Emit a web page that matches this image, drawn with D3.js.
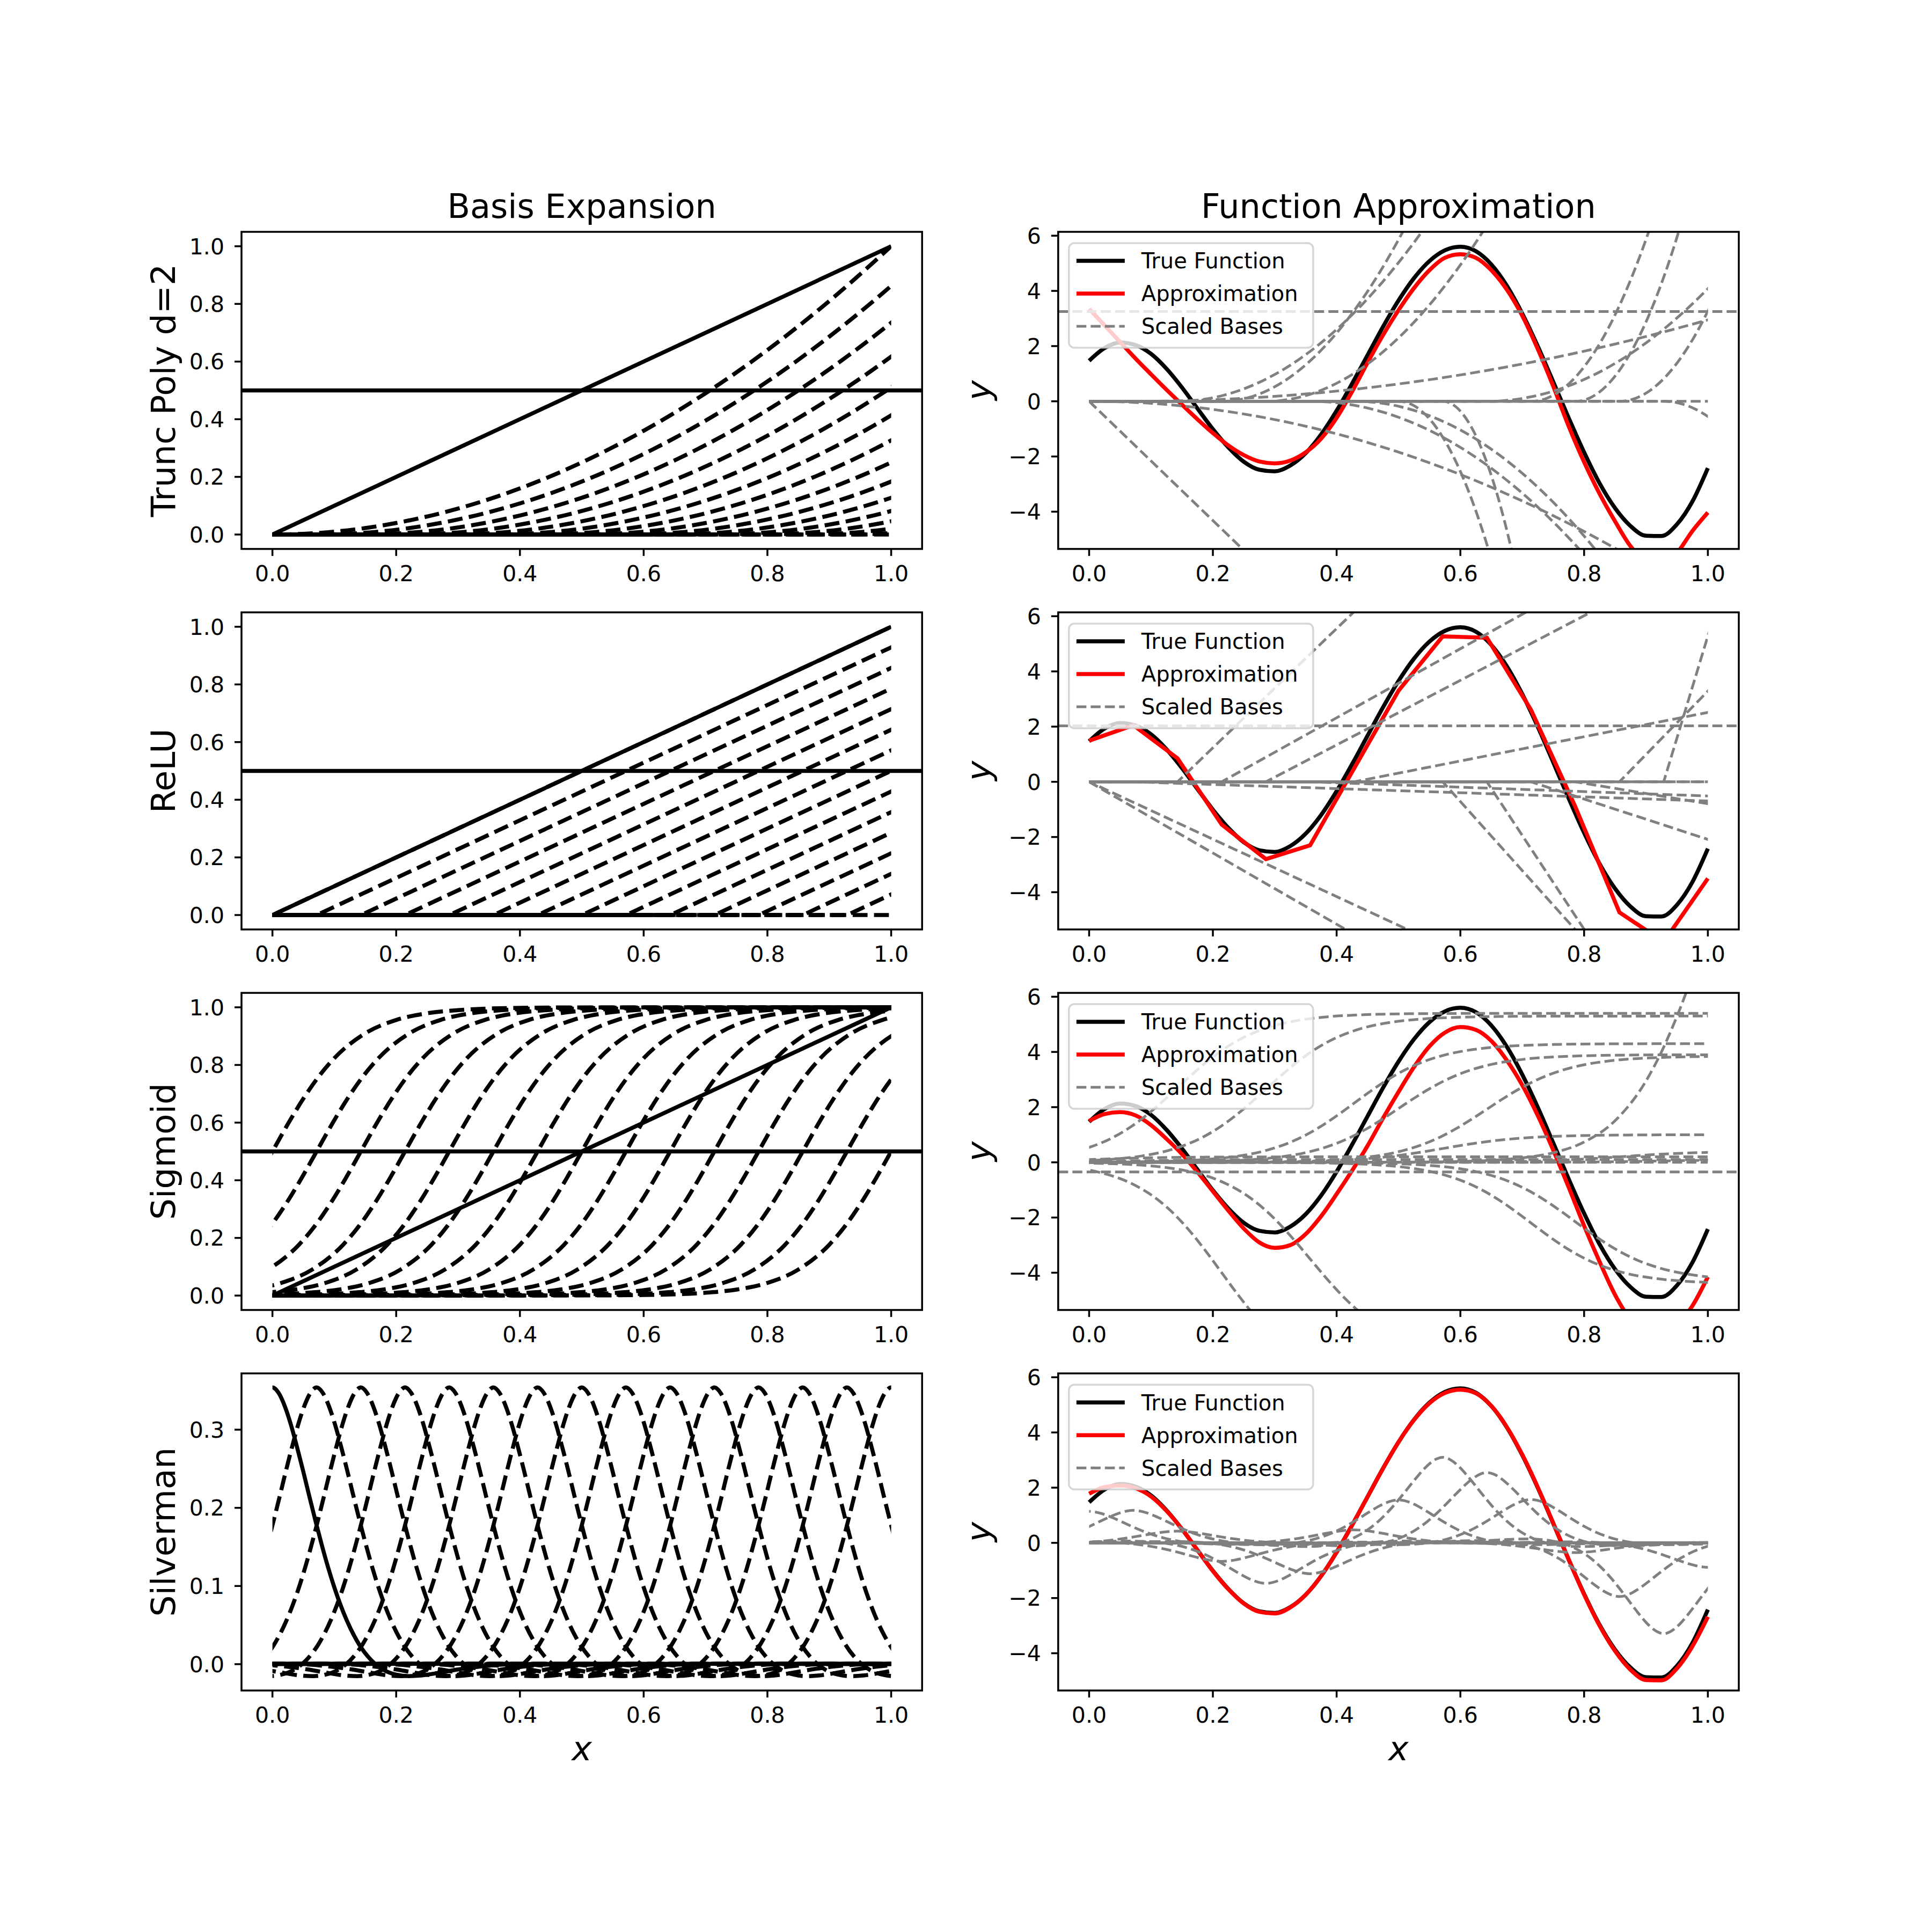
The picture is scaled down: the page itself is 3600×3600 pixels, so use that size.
<!DOCTYPE html>
<html lang="en">
<head>
<meta charset="UTF-8">
<title>Basis Expansion vs Function Approximation</title>
<style>
  body { margin: 0; background: #fff; }
  svg { display: block; font-family: "DejaVu Sans", sans-serif; }
</style>
<script src="https://d3js.org/d3.v7.min.js"></script>
</head>
<body>
<svg width="3600" height="3600"></svg>
<script>
// ---- data ----
const xTicks = [0, 0.2, 0.4, 0.6, 0.8, 1.0];
const unitTicks = [0, 0.2, 0.4, 0.6, 0.8, 1.0];
const kernelTicks = [0, 0.1, 0.2, 0.3];
const rightTicks = [-4, -2, 0, 2, 4, 6];
const rowNames = ["Trunc Poly d=2", "ReLU", "Sigmoid", "Silverman"];

// knot / centre positions of the 15 bases
const knots = [0, 0.0714, 0.1429, 0.2143, 0.2857, 0.3571, 0.4286, 0.5, 0.5714, 0.6429, 0.7143, 0.7857, 0.8571, 0.9286, 1.0];

// common x grid for the smooth curves
const gridX = [0, 0.025, 0.05, 0.075, 0.1, 0.125, 0.15, 0.175, 0.2, 0.225, 0.25, 0.275, 0.3, 0.325, 0.35, 0.375, 0.4,
  0.425, 0.45, 0.475, 0.5, 0.525, 0.55, 0.575, 0.6, 0.625, 0.65, 0.675, 0.7, 0.725, 0.75, 0.775, 0.8, 0.825, 0.85,
  0.875, 0.9, 0.925, 0.95, 0.975, 1.0];

const trueY = [1.47, 1.93, 2.13, 2.04, 1.72, 1.18, 0.50, -0.26, -1.01, -1.67, -2.19, -2.48, -2.54, -2.33, -1.88, -1.20,
  -0.34, 0.64, 1.67, 2.70, 3.65, 4.46, 5.08, 5.47, 5.60, 5.44, 4.96, 4.19, 3.18, 2.00, 0.71, -0.60, -1.85, -2.97,
  -3.87, -4.52, -4.87, -4.88, -4.46, -3.63, -2.42];

const approxTrunc = [3.35, 2.75, 2.15, 1.55, 0.98, 0.42, -0.12, -0.65, -1.15, -1.6, -1.95, -2.18, -2.25, -2.15, -1.85,
  -1.35, -0.6, 0.35, 1.4, 2.4, 3.3, 4.1, 4.75, 5.2, 5.33, 5.2, 4.75, 4.05, 3.1, 1.9, 0.55, -0.9, -2.2, -3.35, -4.35,
  -5.25, -5.8, -5.95, -5.5, -4.7, -4.03];
const approxRelu = [1.49, 2.05, 0.85, -1.55, -2.8, -2.3, 0.5, 3.3, 5.27, 5.22, 2.6, -0.9, -4.73, -5.8, -3.5]; // at knots
const approxSigmoid = [1.5, 1.75, 1.82, 1.7, 1.35, 0.85, 0.3, -0.35, -1.05, -1.75, -2.4, -2.9, -3.1, -3.0, -2.6, -1.95,
  -1.15, -0.3, 0.6, 1.6, 2.55, 3.45, 4.2, 4.7, 4.9, 4.8, 4.4, 3.7, 2.8, 1.7, 0.45, -0.9, -2.3, -3.6, -4.8, -5.7, -6.2,
  -6.2, -5.9, -5.2, -4.15];
const approxSilverman = [1.78, 2.02, 2.08, 1.98, 1.68, 1.16, 0.5, -0.26, -1.02, -1.68, -2.2, -2.5, -2.56, -2.34, -1.88,
  -1.2, -0.34, 0.64, 1.67, 2.7, 3.65, 4.45, 5.06, 5.43, 5.55, 5.42, 4.96, 4.2, 3.2, 2.02, 0.72, -0.6, -1.87, -3.0,
  -3.92, -4.6, -4.97, -4.98, -4.55, -3.75, -2.68];

// shape of one basis, as [offset from knot, value]
const constBasis = [[-0.05, 0.5], [1.05, 0.5]];
const linBasis = [[0, 0], [1, 1]];
const truncProfile = [[-1.2, 0], [0, 0], [0.025, 0.000625], [0.05, 0.0025], [0.075, 0.005625], [0.1, 0.01], [0.15, 0.0225],
  [0.2, 0.04], [0.3, 0.09], [0.4, 0.16], [0.5, 0.25], [0.6, 0.36], [0.7, 0.49], [0.8, 0.64], [0.9, 0.81], [1.0, 1.0]];
const reluProfile = [[-1.2, 0], [0, 0], [1.0, 1.0]];
const sigmoidProfile = [[-1.2, 0], [-0.5, 0.0005], [-0.4, 0.002], [-0.3, 0.0098], [-0.25, 0.0208], [-0.2, 0.044],
  [-0.15, 0.0903], [-0.1, 0.1765], [-0.075, 0.2396], [-0.05, 0.3166], [-0.025, 0.4049], [0, 0.5], [0.025, 0.5951],
  [0.05, 0.6834], [0.075, 0.7604], [0.1, 0.8235], [0.15, 0.9097], [0.2, 0.956], [0.25, 0.9792], [0.3, 0.9902],
  [0.4, 0.998], [0.5, 0.9995], [1.2, 1]];
const silvermanProfile = [[-1.2, 0], [-0.5, 0.0005], [-0.39, 0], [-0.34, -0.0026], [-0.3, -0.0068], [-0.27, -0.0109],
  [-0.24, -0.0145], [-0.22, -0.0153], [-0.2, -0.0134], [-0.18, -0.0074], [-0.16, 0.0049], [-0.14, 0.0254],
  [-0.12, 0.0562], [-0.1, 0.0983], [-0.09, 0.1237], [-0.08, 0.1518], [-0.07, 0.182], [-0.06, 0.2136], [-0.05, 0.246],
  [-0.04, 0.277], [-0.03, 0.306], [-0.02, 0.33], [-0.01, 0.347], [0, 0.354], [0.01, 0.347], [0.02, 0.33], [0.03, 0.306],
  [0.04, 0.277], [0.05, 0.246], [0.06, 0.2136], [0.07, 0.182], [0.08, 0.1518], [0.09, 0.1237], [0.1, 0.0983],
  [0.12, 0.0562], [0.14, 0.0254], [0.16, 0.0049], [0.18, -0.0074], [0.2, -0.0134], [0.22, -0.0153], [0.24, -0.0145],
  [0.27, -0.0109], [0.3, -0.0068], [0.34, -0.0026], [0.39, 0], [0.5, 0.0005], [1.2, 0]];

// fitted weights of the scaled bases (const, linear, then one per knot)
const truncConst = 6.5, truncLin = -21.6;
const truncCoef = [-7.37, 3.42, 39.4, 71.7, 50, -28.3, -35.4, -254, -435, 32, 170, 220, 160, -108, 0];
const reluConst = 4.06, reluLin = -12.9;
const reluCoef = [-10.4, -0.75, 21.6, 12.5, 11.7, -0.8, 4.4, 0, -25, -34, -7.3, -3.7, 23, 74, 0];
const sigConst = -0.7, sigLin = 0.0;
const sigCoef = [0.2, 0.1, 5.4, -8, 5.3, -7, 4.3, 3.9, 1.0, 3.85, -4.4, -4.3, 0.4, 0.1, 16.7];
const silvCoef = [3.22, 3.33, 1.2, -1.9, -4.15, -3.16, 1.33, 4.4, 8.76, 7.2, 4.44, -1.0, -5.5, -9.3, -2.5];

// ---- layout ----
const svg = d3.select("svg");
const axW = 1268.2, axH = 590.87;
const colX = [450, 1971.8];
const rowY = [432, 1141.04, 1850.09, 2559.13];
const tickFont = 41, titleFont = 62, labelFont = 63;

svg.append("rect").attr("width", 3600).attr("height", 3600).attr("fill", "#fff");

const x = d3.scaleLinear().domain([-0.05, 1.05]).range([0, axW]);
const yUnit = d3.scaleLinear().domain([-0.05, 1.05]).range([axH, 0]);
const yKernel = d3.scaleLinear().domain([-0.0337, 0.372]).range([axH, 0]);
const yRight = d3.scaleLinear().domain([-5.35, 6.14]).range([axH, 0]);

const defs = svg.append("defs");
let clipId = 0;
function addClip(x0, x1) {
  const id = "clip" + (clipId++);
  defs.append("clipPath").attr("id", id).append("rect")
    .attr("x", x0).attr("y", 0).attr("width", x1 - x0).attr("height", axH);
  return "url(#" + id + ")";
}

function shift(profile, knot, coef) {
  return profile.map(p => [knot + p[0], coef * p[1]]);
}

function drawLine(g, pts, y, curve, style) {
  const line = d3.line().x(d => x(d[0])).y(d => y(d[1])).curve(curve);
  const p = g.append("path").attr("d", line(pts)).attr("fill", "none")
    .attr("stroke", style.color).attr("stroke-width", style.width);
  if (style.dash) p.attr("stroke-dasharray", style.dash);
  return p;
}

const solidBlack = { color: "#000", width: 7.5 };
const dashBlack = { color: "#000", width: 7.5, dash: "27.75,12" };
const dashGray = { color: "#808080", width: 5, dash: "18.5,8" };
const redLine = { color: "#ff0000", width: 7.5 };

function drawFrame(g, y, yTicks, fmt) {
  xTicks.forEach(t => {
    g.append("line").attr("x1", x(t)).attr("x2", x(t)).attr("y1", axH).attr("y2", axH + 13)
      .attr("stroke", "#000").attr("stroke-width", 3.5);
    g.append("text").attr("x", x(t)).attr("y", axH + 60).attr("text-anchor", "middle")
      .attr("font-size", tickFont).text(d3.format(".1f")(t));
  });
  yTicks.forEach(t => {
    g.append("line").attr("x1", -13).attr("x2", 0).attr("y1", y(t)).attr("y2", y(t))
      .attr("stroke", "#000").attr("stroke-width", 3.5);
    g.append("text").attr("x", -32).attr("y", y(t)).attr("dy", "0.36em").attr("text-anchor", "end")
      .attr("font-size", tickFont).text(fmt(t));
  });
  g.append("rect").attr("width", axW).attr("height", axH).attr("fill", "none")
    .attr("stroke", "#000").attr("stroke-width", 3.5);
}

const fmt1 = d3.format(".1f");
const fmtInt = t => (t < 0 ? "\u2212" + Math.abs(t) : String(t));

// ---- left column: the bases ----
const leftSets = [
  { profile: truncProfile, curve: d3.curveMonotoneX },
  { profile: reluProfile, curve: d3.curveLinear },
  { profile: sigmoidProfile, curve: d3.curveMonotoneX },
  { profile: silvermanProfile, curve: d3.curveMonotoneX }
];

leftSets.forEach((set, r) => {
  const g = svg.append("g").attr("transform", `translate(${colX[0]},${rowY[r]})`);
  const y = r === 3 ? yKernel : yUnit;
  const full = g.append("g").attr("clip-path", addClip(0, axW));
  const plot = g.append("g").attr("clip-path", addClip(x(0), x(1)));
  if (r < 3) {
    drawLine(full, constBasis, y, d3.curveLinear, solidBlack);
    drawLine(plot, linBasis, y, d3.curveLinear, solidBlack);
    knots.forEach(k => drawLine(plot, shift(set.profile, k, 1), y, set.curve, dashBlack));
  } else {
    drawLine(plot, shift(set.profile, knots[0], 1), y, set.curve, solidBlack);
    knots.slice(1).forEach(k => drawLine(plot, shift(set.profile, k, 1), y, set.curve, dashBlack));
  }
  drawFrame(g, y, r === 3 ? kernelTicks : unitTicks, fmt1);
  svg.append("text").attr("transform", `translate(326,${rowY[r] + axH / 2}) rotate(-90)`)
    .attr("text-anchor", "middle").attr("font-size", labelFont).text(rowNames[r]);
});

// ---- right column: the fits ----
const rightSets = [
  { profile: truncProfile, curve: d3.curveMonotoneX, c0: truncConst, c1: truncLin, coef: truncCoef,
    approx: gridX.map((v, i) => [v, approxTrunc[i]]), approxCurve: d3.curveMonotoneX },
  { profile: reluProfile, curve: d3.curveLinear, c0: reluConst, c1: reluLin, coef: reluCoef,
    approx: knots.map((v, i) => [v, approxRelu[i]]), approxCurve: d3.curveLinear },
  { profile: sigmoidProfile, curve: d3.curveMonotoneX, c0: sigConst, c1: sigLin, coef: sigCoef,
    approx: gridX.map((v, i) => [v, approxSigmoid[i]]), approxCurve: d3.curveMonotoneX },
  { profile: silvermanProfile, curve: d3.curveMonotoneX, c0: null, c1: null, coef: silvCoef,
    approx: gridX.map((v, i) => [v, approxSilverman[i]]), approxCurve: d3.curveMonotoneX }
];
const truePts = gridX.map((v, i) => [v, trueY[i]]);

rightSets.forEach((set, r) => {
  const g = svg.append("g").attr("transform", `translate(${colX[1]},${rowY[r]})`);
  const y = yRight;
  const inAxes = g.append("g").attr("clip-path", addClip(0, axW));
  drawLine(inAxes, truePts, y, d3.curveMonotoneX, solidBlack);
  drawLine(inAxes, set.approx, y, set.approxCurve, redLine);
  if (set.c0 !== null) {
    drawLine(inAxes, constBasis.map(p => [p[0], p[1] * set.c0]), y, d3.curveLinear, dashGray);
  }
  const bases = g.append("g").attr("clip-path", addClip(x(0), x(1)));
  if (set.c1 !== null) {
    drawLine(bases, linBasis.map(p => [p[0], p[1] * set.c1]), y, d3.curveLinear, dashGray);
  }
  knots.forEach((k, i) => drawLine(bases, shift(set.profile, k, set.coef[i]), y, set.curve, dashGray));
  drawFrame(g, y, rightTicks, fmtInt);

  // legend
  const lg = g.append("g").attr("transform", "translate(20,21)");
  lg.append("rect").attr("width", 455).attr("height", 195).attr("rx", 10)
    .attr("fill", "#fff").attr("fill-opacity", 0.8)
    .attr("stroke", "#cccccc").attr("stroke-opacity", 0.8).attr("stroke-width", 3.5);
  const entries = [["True Function", solidBlack], ["Approximation", redLine], ["Scaled Bases", dashGray]];
  entries.forEach(([name, st], j) => {
    const yy = 33 + j * 61;
    const l = lg.append("line").attr("x1", 14).attr("x2", 104).attr("y1", yy).attr("y2", yy)
      .attr("stroke", st.color).attr("stroke-width", st.width);
    if (st.dash) l.attr("stroke-dasharray", st.dash);
    lg.append("text").attr("x", 135).attr("y", yy).attr("dy", "0.36em")
      .attr("font-size", 40).text(name);
  });

  svg.append("text").attr("transform", `translate(1845,${rowY[r] + axH / 2}) rotate(-90)`)
    .attr("text-anchor", "middle").attr("font-size", labelFont).attr("font-style", "italic").text("y");
});

// ---- titles and x labels ----
svg.append("text").attr("x", colX[0] + axW / 2).attr("y", 406).attr("text-anchor", "middle")
  .attr("font-size", titleFont).text("Basis Expansion");
svg.append("text").attr("x", colX[1] + axW / 2).attr("y", 406).attr("text-anchor", "middle")
  .attr("font-size", titleFont).text("Function Approximation");
colX.forEach(cx => {
  svg.append("text").attr("x", cx + axW / 2).attr("y", rowY[3] + axH + 130).attr("text-anchor", "middle")
    .attr("font-size", labelFont).attr("font-style", "italic").text("x");
});
</script>
</body>
</html>
